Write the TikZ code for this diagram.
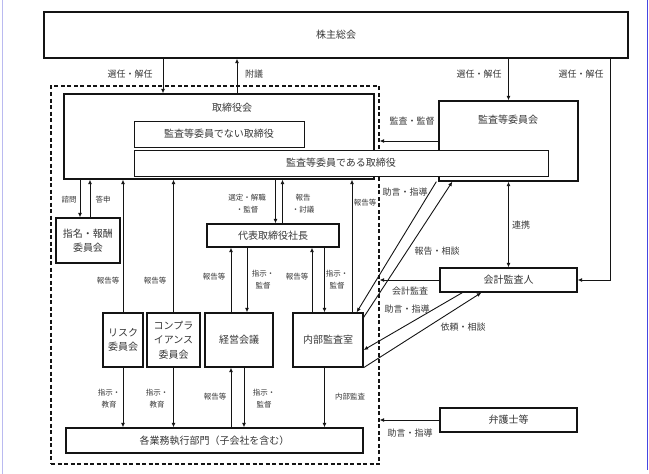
\documentclass[tikz,border=0pt]{standalone}
\usepackage{fontspec}
\setmainfont{Noto Sans CJK JP}
\usepackage{xcolor}
\definecolor{ink}{RGB}{20,20,20}
\definecolor{txt}{RGB}{55,55,55}
\definecolor{rimL}{RGB}{186,186,240}
\definecolor{rimR}{RGB}{70,70,225}
\usetikzlibrary{arrows.meta,positioning,calc}

\begin{document}
\begin{tikzpicture}[x=1pt,y=-1pt,
  box/.style={draw=ink,line width=1.3pt,fill=white,inner sep=0pt,
              text=txt,align=center,
              font=\fontsize{10}{14.5}\selectfont},
  sub/.style={box,line width=0.9pt},
  grpbox/.style={draw=ink,line width=1.1pt,dash pattern=on 4pt off 2.5pt,
                 inner sep=0pt,minimum width=328pt,minimum height=378pt},
  lab/.style={inner sep=0pt,text=txt,font=\fontsize{9}{12}\selectfont},
  slab/.style={inner sep=0pt,text=txt,align=center,
               font=\fontsize{7.5}{12}\selectfont},
  arr/.style={-{Latex[length=4.5pt,width=4pt]},line width=0.9pt,draw=ink},
  arr2/.style={arr,{Latex[length=4.5pt,width=4pt]}-{Latex[length=4.5pt,width=4pt]}},
]
  \useasboundingbox (0,0) rectangle (649,474);
  \draw[rimL,line width=1pt] (2,0) -- (2,474);
  \draw[rimR,line width=1pt] (647,0) -- (647,470);

  %% top and the board group
  \node[box,minimum width=584pt,minimum height=46pt](soukai) at (336,35) {株主総会};
  \node[grpbox](grp) at (215,275) {};
  \node[box,minimum width=310pt,minimum height=85pt](tori) at (219,136.5) {};
  \node[lab,font=\fontsize{10}{12}\selectfont](toriT) at (232,108) {取締役会};
  \node[sub,minimum width=170pt,minimum height=26pt](nonaud) at (219,134) {監査等委員でない取締役};
  \node[box,minimum width=139pt,minimum height=80pt](kansa) at (508.5,141) {};
  \node[lab,font=\fontsize{10}{12}\selectfont](kansaT) at (508,120) {監査等委員会};
  \node[sub,minimum width=414pt,minimum height=26pt](auddir) at (341,163) {監査等委員である取締役};

  %% boxes inside
  \node[box,minimum width=64pt,minimum height=45pt](nomi) at (88,240.5) {指名・報酬\\委員会};
  \node[box,minimum width=132pt,minimum height=23pt](daihyo) at (273,235.5) {代表取締役社長};
  \node[box,minimum width=40pt,minimum height=54pt](risk) at (123,340) {リスク\\委員会};
  \node[box,minimum width=53pt,minimum height=54pt](comp) at (173.5,340) {コンプラ\\イアンス\\委員会};
  \node[box,minimum width=68pt,minimum height=54pt](keiei) at (239,340) {経営会議};
  \node[box,minimum width=70pt,minimum height=54pt](naibu) at (328,340) {内部監査室};
  \node[box,minimum width=297pt,minimum height=25pt](gyomu) at (214.5,440.5) {各業務執行部門（子会社を含む）};

  %% outside
  \node[box,minimum width=137pt,minimum height=24pt](kaikei) at (508.5,280) {会計監査人};
  \node[box,minimum width=137pt,minimum height=24pt](bengo) at (508.5,420) {弁護士等};

  %% shareholders
  \draw[arr]([xshift=-56pt]tori.north |- soukai.south) -- ([xshift=-56pt]tori.north);
  \draw[arr]([xshift=18pt]tori.north) -- ([xshift=18pt]tori.north |- soukai.south);
  \draw[arr](soukai.south -| kansa.north) -- (kansa.north);
  \draw[arr]([xshift=-18pt]soukai.south east) |- (kaikei.east);
  \node[lab](s1) at (130,74) {選任・解任};
  \node[lab](s2) at (254,74) {附議};
  \node[lab](s3) at (479,74) {選任・解任};
  \node[lab](s4) at (581,74) {選任・解任};

  %% board <-> committees
  \draw[arr]([xshift=-8pt]nomi.north |- tori.south) -- ([xshift=-8pt]nomi.north);
  \draw[arr]([xshift=2pt]nomi.north) -- ([xshift=2pt]nomi.north |- tori.south);
  \node[slab](q1) at (69,200) {諮問};
  \node[slab](q2) at (103,200) {答申};
  \foreach \nd/\dx in {risk/0, comp/0, naibu/24}{%
    \draw[arr]([xshift=\dx pt]\nd.north) -- ([xshift=\dx pt]\nd.north |- tori.south);
  }
  \node[slab](r1) at (108,281) {報告等};
  \node[slab](r2) at (155,281) {報告等};
  \node[slab](r3) at (365,203) {報告等};

  \draw[arr]([xshift=2.5pt]daihyo.north |- tori.south) -- ([xshift=2.5pt]daihyo.north);
  \draw[arr]([xshift=9.5pt]daihyo.north) -- ([xshift=9.5pt]daihyo.north |- tori.south);
  \node[slab](d1) at (247,204) {選定・解職\\・監督};
  \node[slab](d2) at (303,204) {報告\\・討議};

  %% president <-> meeting, audit office
  \draw[arr]([xshift=-8pt]keiei.north) -- ([xshift=-8pt]keiei.north |- daihyo.south);
  \draw[arr]([xshift=8pt]keiei.north |- daihyo.south) -- ([xshift=8pt]keiei.north);
  \draw[arr]([xshift=-16pt]naibu.north) -- ([xshift=-16pt]naibu.north |- daihyo.south);
  \draw[arr]([xshift=-3.5pt]naibu.north |- daihyo.south) -- ([xshift=-3.5pt]naibu.north);
  \node[slab](p1) at (214,277) {報告等};
  \node[slab](p2) at (263,280) {指示・\\監督};
  \node[slab](p3) at (297,277) {報告等};
  \node[slab](p4) at (337,280) {指示・\\監督};

  %% down to departments
  \foreach \nd/\dx in {risk/0, comp/0, keiei/5, naibu/-3.5}{%
    \draw[arr]([xshift=\dx pt]\nd.south) -- ([xshift=\dx pt]\nd.south |- gyomu.north);
  }
  \draw[arr]([xshift=-8pt]keiei.south |- gyomu.north) -- ([xshift=-8pt]keiei.south);
  \node[slab](g1) at (109,399) {指示・\\教育};
  \node[slab](g2) at (157,399) {指示・\\教育};
  \node[slab](g3) at (215,397) {報告等};
  \node[slab](g4) at (264,399) {指示・\\監督};
  \node[slab](g5) at (350,397) {内部監査};

  %% audit committee, auditor, lawyers
  \draw[arr](kansa.west) -- (kansa.west -| grp.east);
  \draw[arr](kaikei.west) -- (kaikei.west -| grp.east);
  \draw[arr](bengo.west) -- (bengo.west -| grp.east);
  \draw[arr2](kansa.south) -- (kaikei.north);
  \draw[arr]([xshift=-2pt]kansa.south west) -- ([xshift=-7pt]naibu.north east);
  \draw[arr]([yshift=-5pt]naibu.north east) -- ([xshift=14pt]kansa.south west);
  \draw[arr]([xshift=23pt]kaikei.south west) -- ([yshift=-10pt]naibu.east);
  \draw[arr](naibu.south east) -- ([xshift=42pt]kaikei.south west);
  \node[lab](a1) at (412,121) {監査・監督};
  \node[lab](a2) at (405,192) {助言・指導};
  \node[lab](a3) at (521,225) {連携};
  \node[lab](a4) at (437,251) {報告・相談};
  \node[lab](a5) at (410,291) {会計監査};
  \node[lab](a6) at (407,309) {助言・指導};
  \node[lab](a7) at (463,327) {依頼・相談};
  \node[lab](a8) at (410,433) {助言・指導};
\end{tikzpicture}
\end{document}
